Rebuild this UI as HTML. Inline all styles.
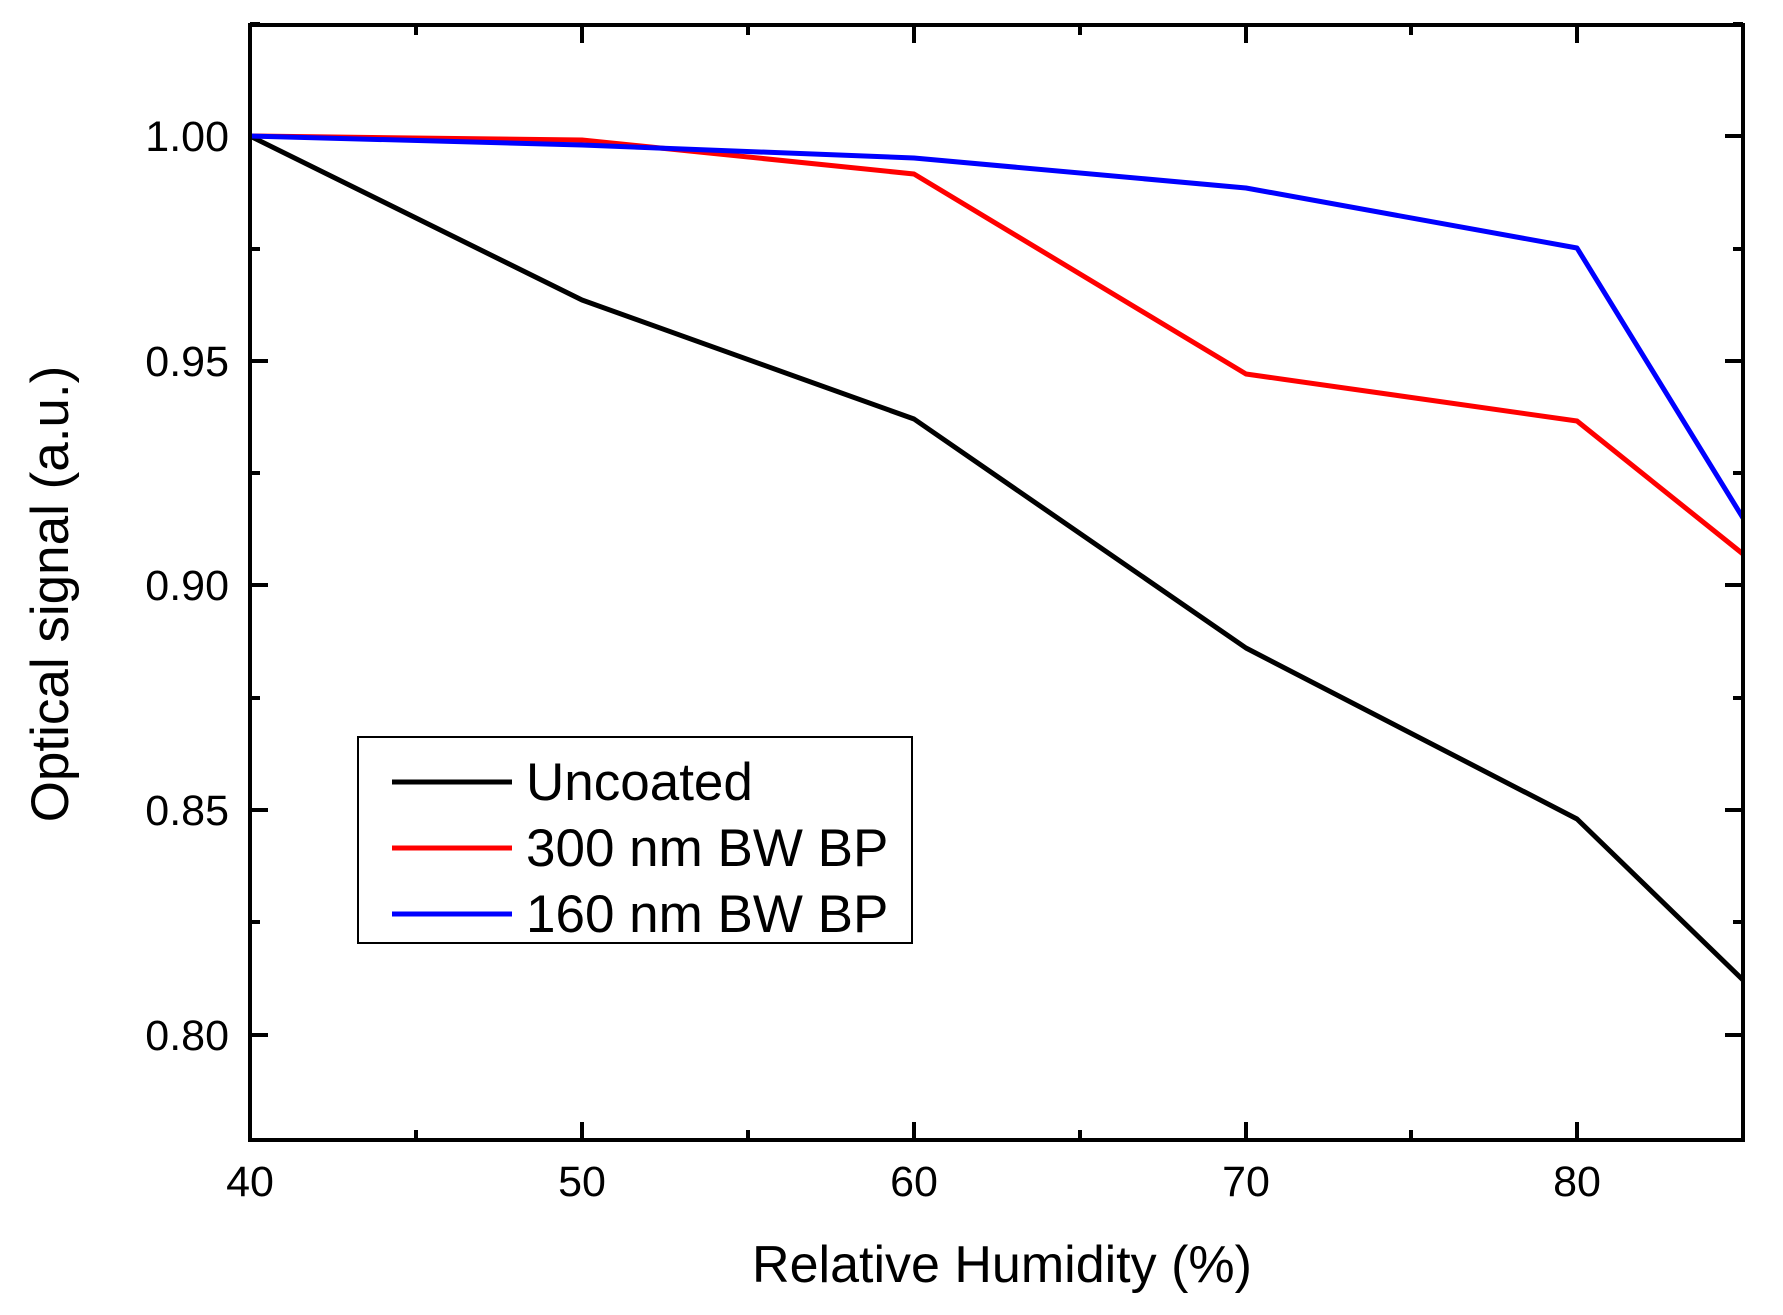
<!DOCTYPE html>
<html><head><style>body{margin:0;background:#fff}</style></head><body>
<svg width="1783" height="1310" xmlns="http://www.w3.org/2000/svg" font-family="Liberation Sans, Arial, sans-serif">
<rect width="1783" height="1310" fill="#fff"/>
<g stroke="#000" stroke-width="4" fill="none">
<path d="M250,136h18M1743,136h-18M250,361h18M1743,361h-18M250,585h18M1743,585h-18M250,810h18M1743,810h-18M250,1035h18M1743,1035h-18"/>
<path d="M250,24h10M1743,24h-10M250,249h10M1743,249h-10M250,473h10M1743,473h-10M250,698h10M1743,698h-10M250,922h10M1743,922h-10"/>
<path d="M582,1140v-18M914,1140v-18M1246,1140v-18M1577,1140v-18M582,25v18M914,25v18M1246,25v18M1577,25v18"/>
<path d="M416,1140v-10M748,1140v-10M1080,1140v-10M1411,1140v-10M416,25v10M748,25v10M1080,25v10M1411,25v10"/>
</g>
<polyline fill="none" stroke="#000" stroke-width="5" stroke-linejoin="round" points="250,136 582,300 914,419 1246,648 1577,819 1743,980"/>
<polyline fill="none" stroke="#f00" stroke-width="5" stroke-linejoin="round" points="250,136 582,140 914,174 1246,374 1577,421 1743,554"/>
<polyline fill="none" stroke="#00f" stroke-width="5" stroke-linejoin="round" points="250,136 582,145 914,158 1246,188 1577,248 1743,518"/>
<rect x="250" y="25" width="1493" height="1115" fill="none" stroke="#000" stroke-width="4"/>
<g font-size="43" text-anchor="end">
<text x="229" y="151">1.00</text><text x="229" y="376">0.95</text><text x="229" y="600">0.90</text><text x="229" y="825">0.85</text><text x="229" y="1050">0.80</text>
</g>
<g font-size="43" text-anchor="middle">
<text x="250" y="1196">40</text><text x="582" y="1196">50</text><text x="914" y="1196">60</text><text x="1246" y="1196">70</text><text x="1577" y="1196">80</text>
</g>
<text x="1002" y="1282" font-size="52" text-anchor="middle">Relative Humidity (%)</text>
<text transform="translate(68,594) rotate(-90)" font-size="53" text-anchor="middle">Optical signal (a.u.)</text>
<rect x="358" y="737" width="554" height="206" fill="#fff" stroke="#000" stroke-width="2"/>
<path d="M392,782h120" stroke="#000" stroke-width="5"/>
<path d="M392,848h120" stroke="#f00" stroke-width="5"/>
<path d="M392,914h120" stroke="#00f" stroke-width="5"/>
<g font-size="53"><text x="526" y="800">Uncoated</text><text x="526" y="866">300 nm BW BP</text><text x="526" y="932">160 nm BW BP</text></g>
</svg>
</body></html>
